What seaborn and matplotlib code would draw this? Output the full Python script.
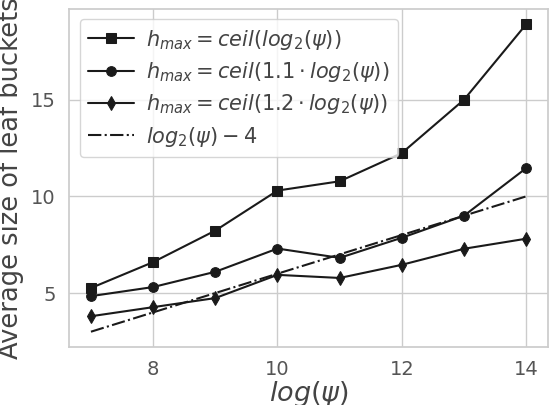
import matplotlib
matplotlib.use("Agg")
import matplotlib.pyplot as plt
import seaborn as sns
import pandas as pd

log_psi = [7, 8, 9, 10, 11, 12, 13, 14]
h_log2 = [5.26, 6.6, 8.23, 10.3, 10.78, 12.24, 15.0, 18.9]
h_11 = [4.84, 5.31, 6.1, 7.3, 6.82, 7.86, 9.0, 11.46]
h_12 = [3.8, 4.27, 4.74, 5.94, 5.78, 6.46, 7.29, 7.81]
ref_line = [3, 4, 5, 6, 7, 8, 9, 10]

labels = [
    r"$h_{max} = ceil(log_2(\psi))$",
    r"$h_{max} = ceil(1.1 \cdot log_2(\psi))$",
    r"$h_{max} = ceil(1.2 \cdot log_2(\psi))$",
    r"$log_2(\psi) - 4$",
]

sns.set_theme(style="whitegrid")
plt.rcParams['font.family'] = ['DejaVu Sans']

fig, ax = plt.subplots(figsize=(5.58, 4.05), dpi=100)
fig.subplots_adjust(left=0.124, right=0.982, top=0.978, bottom=0.143)

color = "#1a1a1a"
sns.lineplot(x=log_psi, y=h_log2, ax=ax, marker="s", markersize=7, color=color,
             lw=1.5, label=labels[0], markeredgecolor=color)
sns.lineplot(x=log_psi, y=h_11, ax=ax, marker="o", markersize=7, color=color,
             lw=1.5, label=labels[1], markeredgecolor=color)
sns.lineplot(x=log_psi, y=h_12, ax=ax, marker="d", markersize=7, color=color,
             lw=1.5, label=labels[2], markeredgecolor=color)
sns.lineplot(x=log_psi, y=ref_line, ax=ax, color=color, lw=1.5, linestyle="-.",
             label=labels[3])

ax.set_xticks([8, 10, 12, 14])
ax.set_yticks([5, 10, 15])
ax.tick_params(labelsize=14, colors="#555555")
ax.set_xlabel(r"$log(\psi)$", fontsize=19.5, color="#444444", labelpad=0)
ax.set_ylabel("Average size of leaf buckets", fontsize=18.5, color="#444444", labelpad=5)
leg = ax.legend(loc="upper left", fontsize=15, frameon=True, handlelength=2.2,
                labelspacing=0.4, borderaxespad=0.5, handletextpad=0.6)
for t in leg.get_texts():
    t.set_color("#444444")

fig.savefig("out.png", dpi=100)
